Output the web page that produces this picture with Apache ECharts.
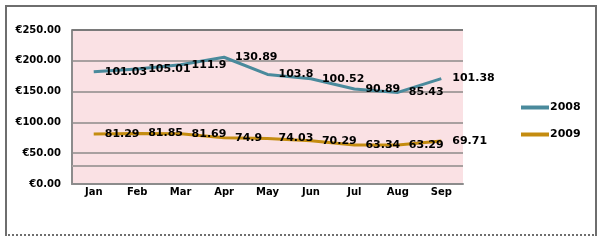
<!DOCTYPE html>
<html><head><meta charset="utf-8">
<script src="https://cdn.jsdelivr.net/npm/echarts@6/dist/echarts.min.js"></script>
<style>
html,body{margin:0;padding:0;background:#fff;}
#c{position:absolute;left:0;top:0;width:602px;height:241px;}
#frame{position:absolute;left:5px;top:5px;width:588px;height:227px;border:2px solid #6e6e6e;border-bottom:2px dotted #6e6e6e;pointer-events:none;}
</style></head>
<body>
<div id="c"></div>
<div id="frame"></div>
<script>
const categories = ['Jan','Feb','Mar','Apr','May','Jun','Jul','Aug','Sep'];
const values2008 = [101.03,105.01,111.9,130.89,103.8,100.52,90.89,85.43,101.38];
const values2009 = [81.29,81.85,81.69,74.9,74.03,70.29,63.34,63.29,69.71];
const yTicks = [0,50,100,150,200,250];
const extraGridValue = 30;

const font = 'DejaVu Sans';
const chart = echarts.init(document.getElementById('c'), null, {renderer:'canvas'});
const labelStyle = {show:true, position:'right', distance:11, color:'#000', fontFamily:font, fontWeight:'bold', fontSize:11};
chart.setOption({
  animation:false,
  grid:{left:72, top:30, right:139, bottom:57, show:true, backgroundColor:'#fae1e4', borderWidth:0, borderColor:'transparent'},
  legend:{
    orient:'vertical', left:516, top:97, itemGap:16, itemWidth:28, itemHeight:4,
    icon:'rect', data:['2008','2009'],
    textStyle:{fontFamily:font, fontWeight:'bold', fontSize:11, color:'#000', padding:[0,0,0,-4]}
  },
  xAxis:{
    type:'category', data:categories, boundaryGap:true,
    axisTick:{show:false},
    axisLine:{lineStyle:{color:'#8c8c8c', width:2}},
    axisLabel:{margin:3, fontFamily:font, fontWeight:'bold', fontSize:10, color:'#000'}
  },
  yAxis:{
    type:'value', min:yTicks[0], max:yTicks[yTicks.length-1], interval:50,
    axisLine:{show:true, lineStyle:{color:'#8c8c8c', width:2}},
    axisTick:{show:false},
    splitLine:{lineStyle:{color:'#a8a0a0', width:2}},
    axisLabel:{margin:11, fontFamily:font, fontWeight:'bold', fontSize:10, color:'#000',
      formatter:v=>'€'+v.toFixed(2)}
  },
  series:[
    {name:'2009', type:'line', stack:'t', data:values2009, symbol:'circle', symbolSize:0, showSymbol:true,
      lineStyle:{color:'#c48c10', width:3}, itemStyle:{color:'#c48c10'}, label:labelStyle,
      markLine:{silent:true, symbol:'none', label:{show:false},
        lineStyle:{color:'#a8a0a0', width:2, type:'solid'}, data:[{yAxis:extraGridValue}]}},
    {name:'2008', type:'line', stack:'t', data:values2008, symbol:'circle', symbolSize:0, showSymbol:true,
      lineStyle:{color:'#4a8a9c', width:3}, itemStyle:{color:'#4a8a9c'}, label:labelStyle,
      markLine:{silent:true, symbol:'none', label:{show:false},
        lineStyle:{color:'#7a7a7a', width:2, type:'solid'}, data:[{yAxis:yTicks[yTicks.length-1]}]}}
  ]
});
</script>
</body></html>
